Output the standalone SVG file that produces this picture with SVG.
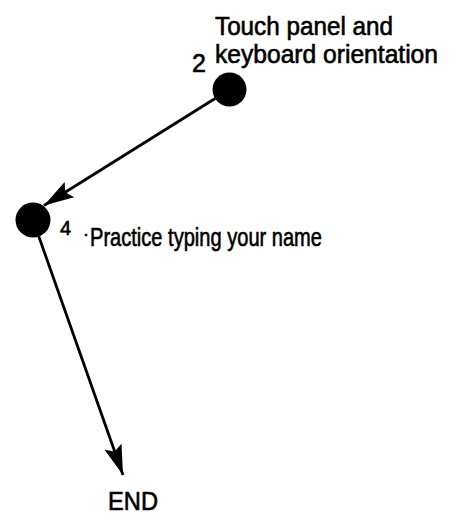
<svg xmlns="http://www.w3.org/2000/svg" width="450" height="514" viewBox="0 0 450 514">
<style>
.lbl{font-family:"Liberation Sans",Arial,sans-serif;fill:#000;stroke:#000;stroke-width:0.6}
.node{fill:#000}
.conn{stroke:#000;stroke-width:2.8;fill:none}
</style>
<defs>
<marker id="arr" markerUnits="userSpaceOnUse" markerWidth="40" markerHeight="26" viewBox="-34 -13 40 26" refX="0" refY="0" orient="auto">
<path d="M0,0 L-30,-9 L-25,0 L-30,9 Z" fill="#000"/>
</marker>
</defs>
<rect width="450" height="514" fill="#fff"/>
<g id="connectors">
<line class="conn" x1="229.5" y1="89.5" x2="44" y2="205.5" marker-end="url(#arr)"/>
<line class="conn" x1="33" y1="220" x2="123" y2="475" marker-end="url(#arr)"/>
</g>
<g id="node2">
<circle class="node" cx="229.5" cy="89.5" r="17"/>
<text class="lbl" x="192" y="72" font-size="25">2</text>
<text class="lbl" x="215" y="35" font-size="25" textLength="178" lengthAdjust="spacingAndGlyphs">Touch panel and</text>
<text class="lbl" x="215" y="63" font-size="25" textLength="223" lengthAdjust="spacingAndGlyphs">keyboard orientation</text>
</g>
<g id="node4">
<circle class="node" cx="33" cy="220" r="17.5"/>
<text class="lbl" x="60" y="235" font-size="20">4</text>
<text class="lbl" x="83" y="240" font-size="18">·</text>
<text class="lbl" x="90" y="246" font-size="25" textLength="232" lengthAdjust="spacingAndGlyphs">Practice typing your name</text>
</g>
<g id="end">
<text class="lbl" x="108" y="510" font-size="25" textLength="50" lengthAdjust="spacingAndGlyphs">END</text>
</g>
</svg>
